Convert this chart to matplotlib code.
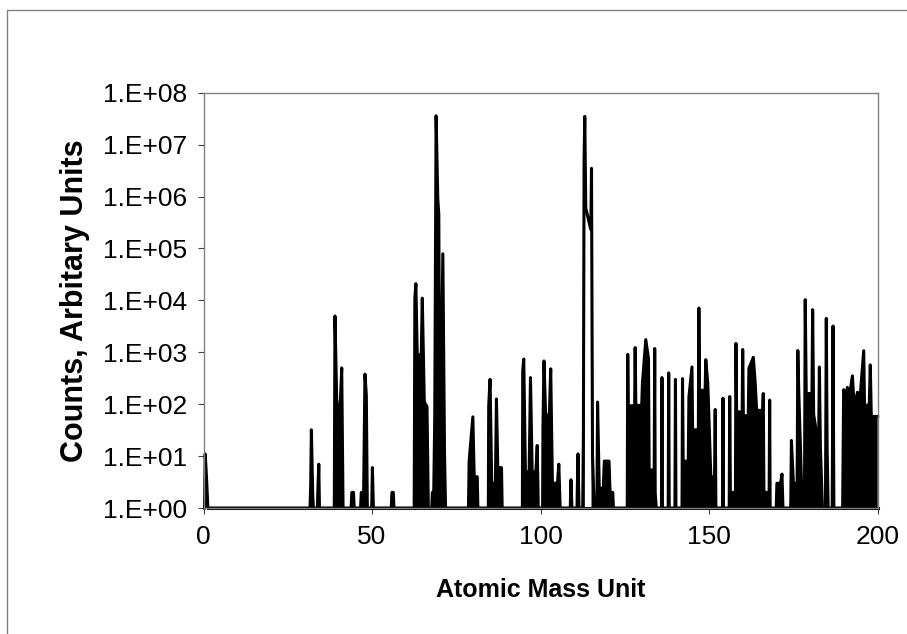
import matplotlib
matplotlib.use('Agg')
import matplotlib.pyplot as plt
from matplotlib.patches import Rectangle
from matplotlib.ticker import FixedLocator, NullLocator

# Trace vertices (mass, counts); counts of 1 is the floor of the log axis
mass = [
    0.3, 0.5, 0.9, 1.3,
    31.6, 31.8, 32.0, 32.4, 32.6,
    33.8, 33.9, 34.2, 34.4,
    38.8, 39.0, 39.5, 40.3, 41.0, 41.4,
    43.8, 44.0, 44.5, 44.7,
    46.6, 46.8, 47.5, 47.9, 48.3, 48.6,
    49.9, 50.1, 50.4,
    55.7, 55.9, 56.3, 56.5,
    62.5, 62.7, 63.0, 63.4, 64.6, 64.9, 65.5, 66.3, 66.7,
    67.7, 67.9, 68.3, 68.6, 69.0, 69.5, 69.8, 70.1, 70.3, 71.0, 71.5, 71.8,
    78.6, 78.8, 79.9, 80.3, 81.2, 81.4,
    84.5, 84.6, 85.0, 85.5, 86.6, 86.9, 87.3, 88.4, 88.6,
    94.6, 94.7, 95.0, 95.5, 96.6, 97.0, 97.5, 98.6, 99.0, 99.3,
    100.6, 100.7, 101.0, 101.5, 102.6, 103.0, 103.5, 105.0, 105.4, 105.8,
    108.8, 109.0, 109.3,
    110.8, 110.9, 111.1, 111.4,
    112.5, 112.7, 112.9, 113.1, 113.4, 114.9, 115.1, 115.4, 115.9,
    116.7, 116.9, 117.4, 118.6, 118.9, 120.3, 120.6, 121.4, 121.6,
    125.7, 125.85, 126.0, 127.9,
    128.05, 128.25, 130.0, 130.2,
    131.2, 132.0, 132.2, 133.7,
    133.85, 134.0, 134.3,
    135.85, 136.0, 136.15,
    137.85, 138.0, 138.15,
    139.85, 140.0, 140.15,
    141.95, 142.1, 142.3, 143.8, 144.0,
    144.9, 145.1, 146.8,
    146.95, 147.15, 148.8,
    149.0, 149.6, 150.5, 151.6,
    151.8, 152.0,
    153.95, 154.1, 154.25,
    155.95, 156.1, 156.3, 157.8,
    157.95, 158.15, 159.8,
    159.95, 160.15, 161.6, 161.8,
    163.1, 163.6, 164.1, 165.9,
    166.05, 166.25, 167.8,
    167.95, 168.1, 169.9, 170.1, 171.2, 171.6, 171.9,
    174.2, 174.4, 175.0, 176.1,
    176.3, 176.6, 177.4, 178.3,
    178.5, 178.8, 180.5,
    180.7, 181.0, 181.9, 182.5,
    182.7, 183.0, 183.6, 184.5,
    184.75, 185.0, 185.3, 186.5,
    186.75, 187.0, 189.6,
    189.9, 190.4, 191.0, 191.5, 192.5, 193.0, 194.0, 194.5,
    195.85, 196.1, 197.5, 197.8, 198.1, 200.0,
]
counts = [
    1, 11, 3.8, 1,
    1, 2.8, 32, 1.8, 1,
    1, 2, 7, 1,
    1, 5000, 130, 35, 500, 1,
    1, 2, 2, 1,
    1, 2, 2, 380, 150, 1,
    1, 6, 1,
    1, 2, 2, 1,
    1, 11000, 21000, 900, 900, 11000, 110, 90, 1,
    1, 2, 2, 57, 3.6e7, 9e5, 4.5e5, 5, 46, 7.9e4, 11, 1,
    1, 8, 57, 4, 4, 1,
    1, 90, 300, 3, 3, 126, 6, 6, 1,
    1, 430, 740, 5, 5, 325, 5, 5, 16, 1,
    1, 37, 680, 62, 62, 480, 3, 3, 7, 1,
    1, 3.5, 1,
    1, 2.5, 11, 1,
    1, 30, 5e6, 3.5e7, 6e5, 2.3e5, 3.5e6, 10, 1,
    1, 110, 2.4, 2.4, 8, 8, 2, 2, 1,
    1, 910, 91, 95,
    1230, 95, 95, 250,
    1750, 760, 5.4, 5.4,
    1180, 2, 1,
    1, 325, 1,
    1, 400, 1,
    1, 300, 1,
    1, 310, 8, 8, 138,
    520, 32, 32,
    7100, 185, 185,
    720, 250, 4, 4,
    79, 1,
    1, 130, 1,
    1, 140, 2, 2,
    1480, 71, 71,
    1130, 60, 60, 490,
    800, 290, 76, 76,
    160, 2, 2,
    120, 1, 1, 3, 3, 4.5, 1,
    1, 20, 3, 3,
    1080, 160, 3, 3,
    10300, 160, 160,
    6600, 64, 26, 26,
    520, 15, 1, 1,
    4500, 14, 1, 1,
    3200, 1, 1,
    190, 130, 210, 130, 350, 90, 170, 79,
    1070, 90, 100, 570, 58, 58,
]

y_exponents = list(range(0, 9))
x_ticks = [0, 50, 100, 150, 200]

plt.rcParams['font.family'] = ['Liberation Sans', 'DejaVu Sans']

fig = plt.figure(figsize=(9.07, 6.34), dpi=100)
ax = fig.add_axes([203.5 / 907, 1 - 508 / 634, 674.2 / 907, 415.3 / 634])

# dense sampling shows as solid black below the trace, except the 113-115 dip
filled = [not (113.3 < m < 115.0) for m in mass]
ax.fill_between(mass, counts, 1, where=filled, color='black', lw=0)
ax.plot(mass, counts, color='black', lw=2.2, solid_joinstyle='round', clip_on=False)
ax.plot([1.3, 200], [1, 1], color='black', lw=2.2, clip_on=False)

ax.set_yscale('log')
ax.set_ylim(1, 1e8)
ax.set_xlim(0, 200)
ax.yaxis.set_major_locator(FixedLocator([10.0 ** k for k in y_exponents]))
ax.yaxis.set_minor_locator(NullLocator())
ax.set_yticklabels(['1.E+%02d' % k for k in y_exponents])
ax.set_xticks(x_ticks)
ax.set_xticklabels([str(t) for t in x_ticks])

for s in ax.spines.values():
    s.set_color('#808080')
    s.set_linewidth(1)
ax.tick_params(direction='out', length=4, width=0.8, color='#404040', labelsize=19, pad=8)

ax.set_xlabel('Atomic Mass Unit', fontsize=18, fontweight='bold', labelpad=21)
ax.set_ylabel('Counts, Arbitary Units', fontsize=22, fontweight='bold', labelpad=9)

# chart border (right and bottom edges run off the picture)
fig.patches.append(Rectangle((7 / 907, -0.01), 0.995, 624 / 634 + 0.01, transform=fig.transFigure,
                             fill=False, edgecolor='#808080', lw=1))

fig.savefig('out.png', dpi=100)
